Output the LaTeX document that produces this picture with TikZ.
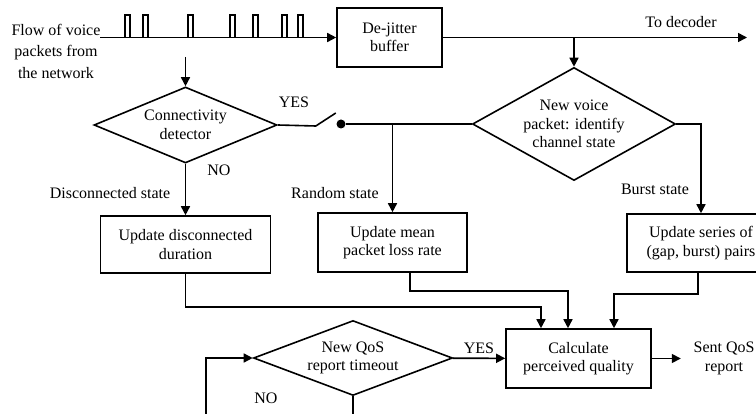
\documentclass[tikz,border=0pt]{standalone}
\usepackage{fontspec}
\setmainfont{Liberation Serif}
\usetikzlibrary{shapes.geometric,arrows.meta,positioning}

\begin{document}
\begin{tikzpicture}[x=1pt, y=-1pt, font=\fontsize{16}{18.5}\selectfont, line width=1.6pt,
        >={Triangle[length=9pt,width=9pt]},
        box/.style={rectangle, draw, align=center, inner sep=0pt},
        decision/.style={diamond, draw, align=center, inner sep=0pt}]
        \clip (0,0) rectangle (756,414);

        % Input flow
        \node (src) [align=center, font=\fontsize{16}{21.5}\selectfont] at (56,51) {Flow of voice\\packets from\\the network};
        \coordinate (in) at (100,37.5);
        \coordinate (out) at (747,37.5);
        \coordinate (tap) at (185.5,57);
        \node (jit) [box, minimum width=105pt, minimum height=59pt] at (389.5,37.5) {De-jitter\\buffer};
        \node (declbl) at (681,22) {To decoder};
        \foreach \x in {125,142.7,188,230,253,282,298}
            \draw (\x,37.5) -- (\x,15) -- (\x+5,15) -- (\x+5,37.5);
        \draw[->] (in) -- (jit);
        \draw[->] (jit) -- (out);

        % Decisions
        \node (conn) [decision, aspect=2.4, minimum width=183pt, minimum height=76pt] at (185.5,125) {Connectivity\\detector};
        \node (voice) [decision, aspect=1.8, minimum width=203pt, minimum height=113pt] at (574,124) {New voice\\packet: identify\\channel state};
        \node (sw) [circle, fill, inner sep=0pt, minimum size=9pt] at (341,124) {};
        \draw[->] (tap) -- (conn);
        \draw[->] (voice.north |- jit.east) -- (voice);
        \draw (conn.east) -- ++(38,1) -- ++(20,-13);
        \draw (sw) -- (voice);
        \node (yes1) at (294,102) {YES};
        \node (no1) at (219,170) {NO};

        % Updates
        \node (disc) [box, minimum width=170pt, minimum height=57pt] at (185.5,244.5) {Update disconnected\\duration};
        \node (mean) [box, minimum width=149pt, minimum height=59pt] at (392.5,242.5) {Update mean\\packet loss rate};
        \node (burst) [box, minimum width=148pt, minimum height=58pt] at (701,243) {Update series of\\(gap, burst) pairs};
        \node (dislbl) at (110,193) {Disconnected state};
        \node (ranlbl) at (335,193) {Random state};
        \node (burlbl) at (655,189) {Burst state};
        \draw[->] (conn) -- (disc);
        \draw[->] (mean.north |- sw) -- (mean);
        \draw[->] (voice.east) -| (burst);

        % Quality
        \node (calc) [box, minimum width=145pt, minimum height=59pt] at (578.5,358.5) {Calculate\\perceived quality};
        \node (qos) [decision, aspect=2.65, minimum width=199pt, minimum height=75pt] at (353,358) {New QoS\\report timeout};
        \node (sent) [right=29pt of calc, inner xsep=12pt, align=center] {Sent QoS\\report};
        \node (no2) at (266,398) {NO};
        \coordinate (loop) at (206,440);
        \draw[->] (disc.south) |- ([xshift=-37.5pt,yshift=21pt]calc.north) -- ([xshift=-37.5pt]calc.north);
        \draw[->] ([xshift=17.5pt]mean.south) |- ([xshift=-10.5pt,yshift=37pt]calc.north) -- ([xshift=-10.5pt]calc.north);
        \draw[->] ([xshift=-3pt]burst.south) |- ([xshift=35.5pt,yshift=34pt]calc.north) -- ([xshift=35.5pt]calc.north);
        \draw[->] (qos) -- node[above] {YES} (calc);
        \draw[->] (calc) -- (sent);
        \draw[->] (qos.south) |- (loop) |- (qos.west);
\end{tikzpicture}
\end{document}
